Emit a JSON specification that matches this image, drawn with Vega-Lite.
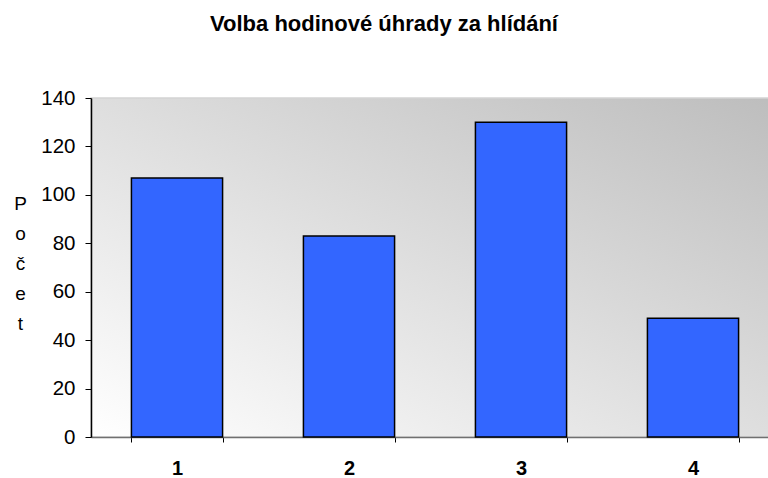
{
  "$schema": "https://vega.github.io/schema/vega-lite/v6.json",
  "autosize": "none",
  "width": 688,
  "height": 339,
  "padding": {"left": 91, "top": 98, "right": 0, "bottom": 41},
  "background": "white",
  "title": {
    "text": "Volba hodinové úhrady za hlídání",
    "font": "Liberation Sans",
    "fontSize": 22,
    "fontWeight": "bold",
    "color": "black",
    "anchor": "middle",
    "dx": -51,
    "offset": 35,
    "baseline": "alphabetic"
  },
  "data": {
    "values": [
      {"kategorie": "1", "pocet": 107},
      {"kategorie": "2", "pocet": 83},
      {"kategorie": "3", "pocet": 130},
      {"kategorie": "4", "pocet": 49}
    ]
  },
  "mark": {"type": "bar", "fill": "#3366FF", "stroke": "black", "strokeWidth": 1.5},
  "encoding": {
    "x": {
      "field": "kategorie",
      "type": "nominal",
      "sort": null,
      "scale": {"paddingInner": 0.47, "paddingOuter": 0.235},
      "axis": {
        "title": null,
        "labelAngle": 0,
        "labelFont": "Liberation Sans",
        "labelFontSize": 20,
        "labelFontWeight": "bold",
        "labelColor": "black",
        "labelPadding": 16,
        "tickBand": "extent",
        "ticks": true,
        "tickSize": 5,
        "tickColor": "black",
        "domainColor": "#707070",
        "domainWidth": 1.5
      }
    },
    "y": {
      "field": "pocet",
      "type": "quantitative",
      "scale": {"domain": [0, 140], "nice": false},
      "axis": {
        "values": [0, 20, 40, 60, 80, 100, 120, 140],
        "grid": false,
        "title": ["P", "o", "č", "e", "t"],
        "titleAngle": 0,
        "titleFont": "Liberation Sans",
        "titleFontSize": 19,
        "titleFontWeight": "normal",
        "titleColor": "black",
        "titleLineHeight": 30,
        "titleAlign": "center",
        "titleBaseline": "top",
        "titleX": -71,
        "titleY": 96,
        "labelFont": "Liberation Sans",
        "labelFontSize": 20.5,
        "labelColor": "black",
        "labelPadding": 10,
        "tickSize": 6,
        "tickColor": "black",
        "domainColor": "black",
        "domainWidth": 1.5
      }
    }
  },
  "config": {
    "view": {
      "fill": {
        "gradient": "linear",
        "x1": 0, "y1": 1, "x2": 1, "y2": 0,
        "stops": [
          {"offset": 0, "color": "#ffffff"},
          {"offset": 1, "color": "#bdbdbd"}
        ]
      },
      "stroke": "#d4d4d4",
      "strokeWidth": 1.5
    }
  }
}
